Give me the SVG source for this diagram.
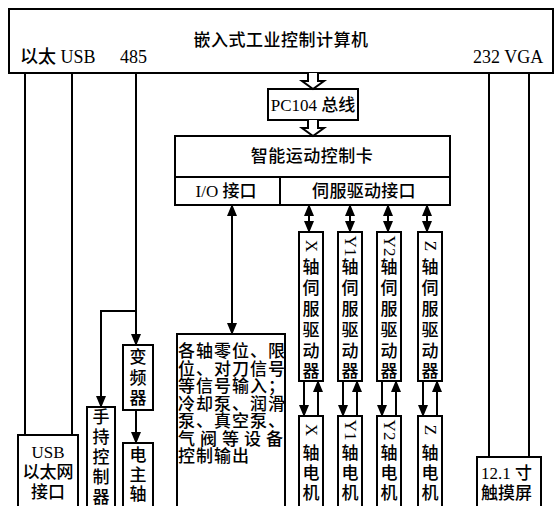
<svg xmlns="http://www.w3.org/2000/svg" width="555" height="506" viewBox="0 0 555 506">
<style>
.box{fill:#fff;stroke:#000;stroke-width:2}
.ln{fill:none;stroke:#000;stroke-width:2}
.t{font-family:"Liberation Serif","Noto Sans CJK SC",serif;font-size:17px;font-weight:500;fill:#000}
.c{text-anchor:middle;dominant-baseline:central}
.v{font-family:"Liberation Serif","Noto Sans CJK SC",serif;font-size:17px;font-weight:500;fill:#000;text-anchor:middle;dominant-baseline:central}
.hollow{fill:#fff;stroke:#000;stroke-width:2;stroke-linejoin:miter}
</style>
<defs>
<marker id="ah" viewBox="0 0 12 10" refX="11" refY="5" markerWidth="12" markerHeight="10" markerUnits="userSpaceOnUse" orient="auto-start-reverse">
<path d="M0,0 L12,5 L0,10 z" fill="#000"/>
</marker>
</defs>

<g id="ipc">
<rect class="box" x="9" y="9" width="544" height="64"/>
<text class="t c" x="281" y="40" letter-spacing="0.5">嵌入式工业控制计算机</text>
<text class="t" x="20" y="63" style="font-size:18px">以太 USB</text>
<text class="t" x="120" y="63" style="font-size:18px">485</text>
<text class="t" x="473" y="63" style="font-size:18px">232  VGA</text>
</g>

<g id="pc104">
<rect class="box" x="268" y="89" width="90" height="31"/>
<text class="t c" x="313" y="105">PC104 总线</text>
</g>

<g id="card">
<rect class="box" x="175" y="136" width="275" height="69"/>
<line class="ln" x1="175" y1="177" x2="450" y2="177"/>
<line class="ln" x1="280" y1="177" x2="280" y2="205"/>
<text class="t c" x="312" y="156" letter-spacing="0.5">智能运动控制卡</text>
<text class="t c" x="226" y="191">I/O 接口</text>
<text class="t c" x="364" y="191" letter-spacing="0.3">伺服驱动接口</text>
</g>

<g id="drv-x">
<rect class="box" x="299" y="232" width="24" height="149"/>
<text class="v" transform="rotate(90 311 246)" x="311" y="246">X</text>
<text class="v" x="311" y="267">轴</text><text class="v" x="311" y="288">伺</text><text class="v" x="311" y="309">服</text><text class="v" x="311" y="330">驱</text><text class="v" x="311" y="351">动</text><text class="v" x="311" y="371">器</text>
</g>
<g id="drv-y1">
<rect class="box" x="338" y="232" width="24" height="149"/>
<text class="v" transform="rotate(90 350 246)" x="350" y="246">Y1</text>
<text class="v" x="350" y="267">轴</text><text class="v" x="350" y="288">伺</text><text class="v" x="350" y="309">服</text><text class="v" x="350" y="330">驱</text><text class="v" x="350" y="351">动</text><text class="v" x="350" y="371">器</text>
</g>
<g id="drv-y2">
<rect class="box" x="377" y="232" width="24" height="149"/>
<text class="v" transform="rotate(90 389 246)" x="389" y="246">Y2</text>
<text class="v" x="389" y="267">轴</text><text class="v" x="389" y="288">伺</text><text class="v" x="389" y="309">服</text><text class="v" x="389" y="330">驱</text><text class="v" x="389" y="351">动</text><text class="v" x="389" y="371">器</text>
</g>
<g id="drv-z">
<rect class="box" x="418" y="232" width="24" height="149"/>
<text class="v" transform="rotate(90 430 246)" x="430" y="246">Z</text>
<text class="v" x="430" y="267">轴</text><text class="v" x="430" y="288">伺</text><text class="v" x="430" y="309">服</text><text class="v" x="430" y="330">驱</text><text class="v" x="430" y="351">动</text><text class="v" x="430" y="371">器</text>
</g>

<g id="mot-x">
<rect class="box" x="299" y="416" width="24" height="96"/>
<text class="v" transform="rotate(90 311 430)" x="311" y="430">X</text>
<text class="v" x="311" y="453">轴</text><text class="v" x="311" y="473">电</text><text class="v" x="311" y="493">机</text>
</g>
<g id="mot-y1">
<rect class="box" x="338" y="416" width="24" height="96"/>
<text class="v" transform="rotate(90 350 430)" x="350" y="430">Y1</text>
<text class="v" x="350" y="453">轴</text><text class="v" x="350" y="473">电</text><text class="v" x="350" y="493">机</text>
</g>
<g id="mot-y2">
<rect class="box" x="377" y="416" width="24" height="96"/>
<text class="v" transform="rotate(90 389 430)" x="389" y="430">Y2</text>
<text class="v" x="389" y="453">轴</text><text class="v" x="389" y="473">电</text><text class="v" x="389" y="493">机</text>
</g>
<g id="mot-z">
<rect class="box" x="418" y="416" width="24" height="96"/>
<text class="v" transform="rotate(90 430 430)" x="430" y="430">Z</text>
<text class="v" x="430" y="453">轴</text><text class="v" x="430" y="473">电</text><text class="v" x="430" y="493">机</text>
</g>

<g id="io-devices">
<rect class="box" x="177" y="334" width="108" height="178"/>
<text class="t" x="178" y="357" letter-spacing="1">各轴零位、限</text>
<text class="t" x="178" y="374.5" letter-spacing="1">位、对刀信号</text>
<text class="t" x="178" y="392" letter-spacing="1">等信号输入；</text>
<text class="t" x="178" y="409.5" letter-spacing="1">冷却泵、润滑</text>
<text class="t" x="178" y="427" letter-spacing="1">泵、真空泵、</text>
<text class="t" x="178" y="444.5" letter-spacing="5">气阀等设备</text>
<text class="t" x="178" y="462" letter-spacing="1">控制输出</text>
</g>

<g id="usb-eth">
<rect class="box" x="18" y="435" width="60" height="77"/>
<text class="t c" x="48" y="452">USB</text>
<text class="t c" x="48" y="472">以太网</text>
<text class="t c" x="48" y="492">接口</text>
</g>

<g id="handheld">
<rect class="box" x="87" y="407" width="28" height="105"/>
<text class="v" x="101" y="417">手</text><text class="v" x="101" y="437">持</text><text class="v" x="101" y="457">控</text><text class="v" x="101" y="477">制</text><text class="v" x="101" y="497">器</text>
</g>

<g id="inverter">
<rect class="box" x="123" y="345" width="30" height="65"/>
<text class="v" x="138" y="357">变</text><text class="v" x="138" y="378">频</text><text class="v" x="138" y="398">器</text>
</g>

<g id="spindle">
<rect class="box" x="123" y="443" width="30" height="69"/>
<text class="v" x="138" y="455">电</text><text class="v" x="138" y="475">主</text><text class="v" x="138" y="494">轴</text>
</g>

<g id="touchscreen">
<rect class="box" x="477" y="457" width="64" height="55"/>
<text class="t" x="481" y="479">12.1 寸</text>
<text class="t" x="481" y="499">触摸屏</text>
</g>

<g id="connectors">
<path class="hollow" d="M308,73 V81 H302 L313,89 L324,81 H318 V73"/>
<path class="hollow" d="M308,120 V128 H302 L313,136 L324,128 H318 V120"/>
<line class="ln" x1="25" y1="73" x2="25" y2="435"/>
<line class="ln" x1="72" y1="73" x2="72" y2="435"/>
<line class="ln" x1="136" y1="73" x2="136" y2="345" marker-end="url(#ah)"/>
<polyline class="ln" points="136,311 101,311 101,407" marker-end="url(#ah)"/>
<line class="ln" x1="136" y1="410" x2="136" y2="443" marker-end="url(#ah)"/>
<line class="ln" x1="489" y1="73" x2="489" y2="457"/>
<line class="ln" x1="529" y1="73" x2="529" y2="457"/>
<line class="ln" x1="232" y1="205" x2="232" y2="334" marker-start="url(#ah)" marker-end="url(#ah)"/>
<line class="ln" x1="309" y1="205" x2="309" y2="232" marker-start="url(#ah)" marker-end="url(#ah)"/>
<line class="ln" x1="350" y1="205" x2="350" y2="232" marker-start="url(#ah)" marker-end="url(#ah)"/>
<line class="ln" x1="388" y1="205" x2="388" y2="232" marker-start="url(#ah)" marker-end="url(#ah)"/>
<line class="ln" x1="427" y1="205" x2="427" y2="232" marker-start="url(#ah)" marker-end="url(#ah)"/>
<line class="ln" x1="304" y1="381" x2="304" y2="416" marker-end="url(#ah)"/>
<line class="ln" x1="318" y1="416" x2="318" y2="381" marker-end="url(#ah)"/>
<line class="ln" x1="343" y1="381" x2="343" y2="416" marker-end="url(#ah)"/>
<line class="ln" x1="357" y1="416" x2="357" y2="381" marker-end="url(#ah)"/>
<line class="ln" x1="382" y1="381" x2="382" y2="416" marker-end="url(#ah)"/>
<line class="ln" x1="396" y1="416" x2="396" y2="381" marker-end="url(#ah)"/>
<line class="ln" x1="423" y1="381" x2="423" y2="416" marker-end="url(#ah)"/>
<line class="ln" x1="437" y1="416" x2="437" y2="381" marker-end="url(#ah)"/>
</g>
</svg>
